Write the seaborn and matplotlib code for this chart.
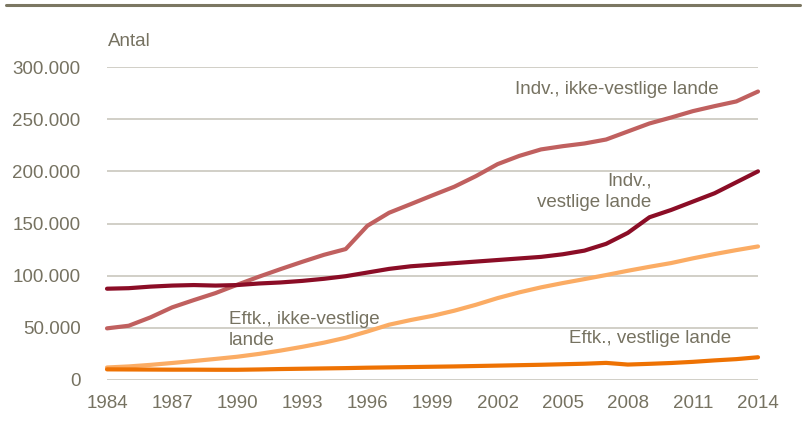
import numpy as np
import pandas as pd
import matplotlib
matplotlib.use("Agg")
import matplotlib.pyplot as plt
import seaborn as sns
from matplotlib.lines import Line2D
from matplotlib.ticker import FuncFormatter

# =========================
# DATA
# =========================
YEARS = list(range(1984, 2015))

INDV_IKKE_VESTLIGE = [49500, 52000, 60000, 69600, 76600, 83300, 91300, 99000, 106300, 113300,
                      120000, 125500, 147800, 160300, 168600, 177000, 185200, 195400, 206900,
                      214800, 221000, 224100, 226700, 230500, 238200, 245900, 251600, 257700,
                      262500, 267000, 276500]
INDV_VESTLIGE = [87500, 88000, 89500, 90500, 91000, 90500, 91000, 92500, 93500, 95000,
                 97000, 99500, 103000, 106500, 109000, 110500, 112000, 113500, 115000,
                 116500, 118000, 120500, 124000, 130500, 141000, 156000, 163000, 171000,
                 179000, 189500, 200000]
EFTK_IKKE_VESTLIGE = [12000, 13000, 14500, 16300, 18200, 20200, 22300, 25000, 28200, 31800,
                      35800, 40500, 46500, 53000, 57500, 61500, 66400, 72100, 78500, 84000,
                      88800, 92900, 96700, 100600, 104700, 108500, 112100, 116600, 120700,
                      124500, 128000]
EFTK_VESTLIGE = [10200, 10100, 10000, 9900, 9900, 9800, 9800, 10100, 10500, 10800,
                 11100, 11400, 11800, 12100, 12400, 12700, 13000, 13400, 13800, 14200,
                 14600, 15100, 15600, 16400, 14800, 15500, 16300, 17400, 18800, 20000,
                 21800]

SERIES = ["Indv., ikke-vestlige lande", "Indv., vestlige lande",
          "Eftk., ikke-vestlige lande", "Eftk., vestlige lande"]
COLORS = ["#c0605f", "#8b0d26", "#fbac64", "#ee7203"]
X_TICKS = list(range(1984, 2015, 3))
Y_TICKS = list(range(0, 300001, 50000))

TEXT_COLOR = "#767261"
GRID_COLOR = "#c9c7bd"
FS = 13.5

df = pd.DataFrame({"year": YEARS,
                   SERIES[0]: INDV_IKKE_VESTLIGE,
                   SERIES[1]: INDV_VESTLIGE,
                   SERIES[2]: EFTK_IKKE_VESTLIGE,
                   SERIES[3]: EFTK_VESTLIGE})
long_df = df.melt(id_vars="year", var_name="serie", value_name="antal")

# =========================
# PLOT
# =========================
sns.set_theme(style="white")
plt.rcParams["font.family"] = ["Liberation Sans Narrow", "Liberation Sans", "DejaVu Sans"]

fig = plt.figure(figsize=(8.04, 4.28), dpi=100)
ax = fig.add_axes([107 / 804, 1 - 380 / 428, (758 - 107) / 804, (380 - 67) / 428])

sns.lineplot(data=long_df, x="year", y="antal", hue="serie", hue_order=SERIES,
             palette=COLORS, linewidth=3, legend=False, ax=ax,
             solid_capstyle="round", clip_on=False)

ax.set_xlim(1984, 2014)
ax.set_ylim(0, 300000)
ax.set_xticks(X_TICKS)
ax.set_yticks(Y_TICKS)
ax.yaxis.set_major_formatter(FuncFormatter(lambda v, _: f"{v:,.0f}".replace(",", ".")))
ax.tick_params(axis="both", length=0, labelsize=FS, colors=TEXT_COLOR)
ax.tick_params(axis="y", pad=19)
ax.tick_params(axis="x", pad=11)
ax.set_xlabel("")
ax.set_ylabel("")
for s in ax.spines.values():
    s.set_visible(False)
ax.grid(axis="y", color=GRID_COLOR, linewidth=1.2)
ax.grid(axis="x", visible=False)
ax.set_axisbelow(True)

# series labels
lbl = dict(fontsize=FS, color=TEXT_COLOR)
ax.text(2007.5, 278000, "Indv., ikke-vestlige lande", ha="center", va="center", **lbl)
ax.text(2009.1, 180000, "Indv.,\nvestlige lande", ha="right", va="center",
        multialignment="right", linespacing=1.35, **lbl)
ax.text(1989.6, 48000, "Eftk., ikke-vestlige\nlande", ha="left", va="center",
        linespacing=1.35, **lbl)
ax.text(2005.3, 39300, "Eftk., vestlige lande", ha="left", va="center", **lbl)

fig.text(108 / 804, 1 - 42 / 428, "Antal", ha="left", va="center", fontsize=FS, color=TEXT_COLOR)

# top rule
fig.add_artist(Line2D([6 / 804, 800 / 804], [1 - 5 / 428, 1 - 5 / 428],
                      color="#7b7762", linewidth=2.2, transform=fig.transFigure))

fig.savefig("out.png", dpi=100)
